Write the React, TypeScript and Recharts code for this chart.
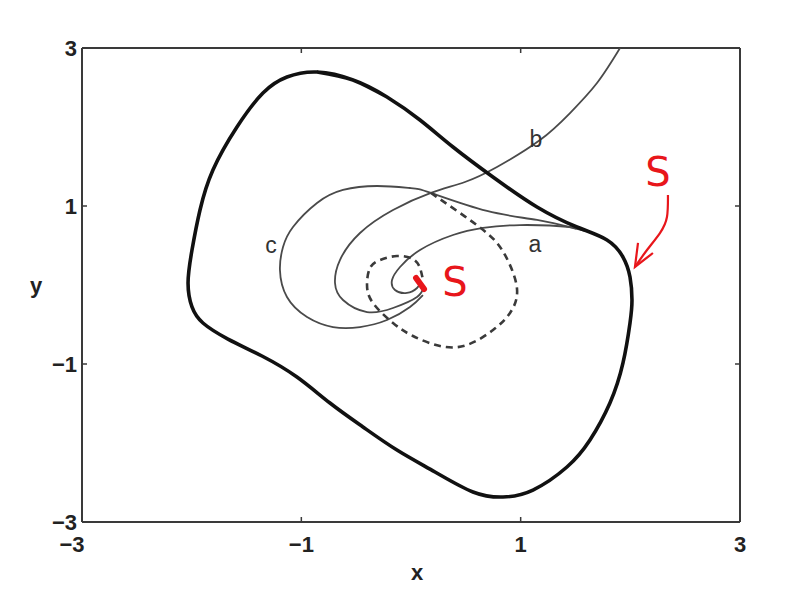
import { ComposedChart, Line, Scatter, XAxis, YAxis, ReferenceLine } from "recharts";

// thick closed orbit (stable limit cycle)
const thickCycle = [
  { x: -0.857, y: 2.696 }, { x: -0.529, y: 2.595 }, { x: -0.219, y: 2.38 },
  { x: 0.082, y: 2.089 }, { x: 0.383, y: 1.747 }, { x: 0.747, y: 1.367 },
  { x: 1.149, y: 0.987 }, { x: 1.513, y: 0.734 }, { x: 1.787, y: 0.57 },
  { x: 1.933, y: 0.354 }, { x: 1.997, y: 0.101 }, { x: 2.015, y: -0.19 },
  { x: 1.997, y: -0.481 }, { x: 1.933, y: -0.987 }, { x: 1.814, y: -1.494 },
  { x: 1.632, y: -1.962 }, { x: 1.422, y: -2.304 }, { x: 1.112, y: -2.595 },
  { x: 0.839, y: -2.684 }, { x: 0.565, y: -2.62 }, { x: 0.219, y: -2.367 },
  { x: -0.128, y: -2.089 }, { x: -0.438, y: -1.797 }, { x: -0.739, y: -1.494 },
  { x: -1.04, y: -1.165 }, { x: -1.359, y: -0.899 }, { x: -1.669, y: -0.684 },
  { x: -1.897, y: -0.481 }, { x: -1.997, y: -0.278 }, { x: -2.033, y: 0.025 },
  { x: -1.997, y: 0.443 }, { x: -1.924, y: 0.949 }, { x: -1.806, y: 1.456 },
  { x: -1.587, y: 2.0 }, { x: -1.35, y: 2.43 }, { x: -1.131, y: 2.633 },
  { x: -0.857, y: 2.696 }, { x: -0.529, y: 2.595 }, { x: -0.219, y: 2.38 },
];

// dashed orbit leaving the saddle and winding in
const dashedCycle = [
  { x: 0.182, y: 1.165 }, { x: 0.447, y: 0.911 }, { x: 0.702, y: 0.646 },
  { x: 0.857, y: 0.38 }, { x: 0.966, y: -0.038 }, { x: 0.903, y: -0.354 },
  { x: 0.748, y: -0.57 }, { x: 0.511, y: -0.759 }, { x: 0.264, y: -0.772 },
  { x: 0.018, y: -0.646 }, { x: -0.164, y: -0.481 }, { x: -0.347, y: -0.228 },
  { x: -0.401, y: 0.0 }, { x: -0.374, y: 0.215 }, { x: -0.283, y: 0.316 },
  { x: -0.128, y: 0.367 }, { x: 0.018, y: 0.329 }, { x: 0.082, y: 0.215 },
  { x: 0.109, y: 0.063 },
];

const curveA = [
  { x: 1.632, y: 0.671 }, { x: 1.45, y: 0.734 }, { x: 0.994, y: 0.759 },
  { x: 0.656, y: 0.722 }, { x: 0.383, y: 0.633 }, { x: 0.082, y: 0.443 },
  { x: -0.1, y: 0.228 }, { x: -0.173, y: 0.063 }, { x: -0.146, y: -0.063 },
  { x: -0.037, y: -0.101 }, { x: 0.055, y: -0.038 }, { x: 0.091, y: 0.038 },
];

const curveB = [
  { x: 1.906, y: 3.0 }, { x: 1.696, y: 2.557 }, { x: 1.45, y: 2.177 },
  { x: 1.176, y: 1.835 }, { x: 0.784, y: 1.494 }, { x: 0.492, y: 1.304 },
  { x: 0.182, y: 1.165 }, { x: -0.164, y: 0.949 }, { x: -0.465, y: 0.658 },
  { x: -0.648, y: 0.316 }, { x: -0.693, y: 0.025 }, { x: -0.62, y: -0.19 },
  { x: -0.401, y: -0.342 }, { x: -0.164, y: -0.291 }, { x: 0.055, y: -0.152 },
  { x: 0.118, y: -0.013 },
];

const curveC = [
  { x: 1.632, y: 0.671 }, { x: 1.513, y: 0.709 }, { x: 1.149, y: 0.823 },
  { x: 0.693, y: 0.937 }, { x: 0.182, y: 1.165 }, { x: -0.009, y: 1.228 },
  { x: -0.31, y: 1.253 }, { x: -0.62, y: 1.203 }, { x: -0.857, y: 1.038 },
  { x: -1.076, y: 0.734 }, { x: -1.167, y: 0.481 }, { x: -1.195, y: 0.19 },
  { x: -1.131, y: -0.152 }, { x: -0.948, y: -0.405 }, { x: -0.711, y: -0.532 },
  { x: -0.465, y: -0.532 }, { x: -0.219, y: -0.443 }, { x: -0.009, y: -0.278 },
  { x: 0.109, y: -0.127 },
];

const curveLabels = [
  { x: 1.13, y: 0.52, text: "a" },
  { x: 1.14, y: 1.85, text: "b" },
  { x: -1.277, y: 0.51, text: "c" },
];

// red hand annotations
const redMark = [{ x: 0.046, y: 0.089 }, { x: 0.119, y: -0.051 }];
const arrowShaft = [
  { x: 2.343, y: 1.139 }, { x: 2.334, y: 0.861 }, { x: 2.27, y: 0.658 },
  { x: 2.152, y: 0.443 }, { x: 2.042, y: 0.228 },
];
const arrowHead = [{ x: 2.07, y: 0.532 }, { x: 2.042, y: 0.228 }, { x: 2.206, y: 0.405 }];
const redLabels = [
  { x: 0.4, y: 0.04, text: "S" },
  { x: 2.252, y: 1.43, text: "S" },
];

const axisTicks = [-3, -1, 1, 3];

const PLOT_W = 658;
const PLOT_H = 474;
const FONT = "'Liberation Sans', Arial, Helvetica, sans-serif";
const AXIS_COLOR = "#3a3a3a";

const fmt = (v: number) => (v < 0 ? "\u2212" + Math.abs(v) : String(v));

const XTick = (props: any) => {
  const { x, y, payload } = props;
  const shift = payload.value === -3 ? -10 : 0;
  return (
    <g>
      <line x1={x} x2={x} y1={y} y2={y - 5} stroke={AXIS_COLOR} strokeWidth={1.5} />
      <line x1={x} x2={x} y1={y - PLOT_H} y2={y - PLOT_H + 5} stroke={AXIS_COLOR} strokeWidth={1.5} />
      <text x={x + shift} y={y + 30} textAnchor="middle" fontFamily={FONT} fontWeight="bold" fontSize={22} fill="#222">
        {fmt(payload.value)}
      </text>
    </g>
  );
};

const YTick = (props: any) => {
  const { x, y, payload } = props;
  return (
    <g>
      <line x1={x} x2={x + 5} y1={y} y2={y} stroke={AXIS_COLOR} strokeWidth={1.5} />
      <line x1={x + PLOT_W} x2={x + PLOT_W - 5} y1={y} y2={y} stroke={AXIS_COLOR} strokeWidth={1.5} />
      <text x={x - 5} y={y + 8} textAnchor="end" fontFamily={FONT} fontWeight="bold" fontSize={22} fill="#222">
        {fmt(payload.value)}
      </text>
    </g>
  );
};

const CurveLabel = (props: any) => {
  const { cx, cy, payload } = props;
  return (
    <text x={cx} y={cy + 8} textAnchor="middle" fontFamily={FONT} fontSize={23} fill="#333">
      {payload.text}
    </text>
  );
};

const RedLabel = (props: any) => {
  const { cx, cy, payload } = props;
  return (
    <text x={cx} y={cy + 14} textAnchor="middle" fontFamily="'DejaVu Sans', sans-serif" fontSize={40} fill="#e8161b">
      {payload.text}
    </text>
  );
};

export default function App() {
  return (
    <ComposedChart width={804} height={596} margin={{ top: 40, right: 72, bottom: 0, left: 0 }}>
      <XAxis
        type="number"
        dataKey="x"
        domain={[-3, 3]}
        ticks={axisTicks}
        allowDataOverflow
        height={82}
        tickSize={0}
        tickMargin={0}
        tick={<XTick />}
        axisLine={{ stroke: AXIS_COLOR, strokeWidth: 2 }}
        label={{ value: "x", position: "insideBottom", offset: 24, dx: 6, fontFamily: FONT, fontWeight: "bold", fontSize: 22, fill: "#222" }}
      />
      <YAxis
        type="number"
        dataKey="y"
        domain={[-3, 3]}
        ticks={axisTicks}
        allowDataOverflow
        width={74}
        tickSize={0}
        tickMargin={0}
        tick={<YTick />}
        axisLine={{ stroke: AXIS_COLOR, strokeWidth: 2 }}
        label={{ value: "y", position: "insideLeft", offset: 22, fontFamily: FONT, fontWeight: "bold", fontSize: 22, fill: "#222" }}
      />
      <ReferenceLine y={3} stroke={AXIS_COLOR} strokeWidth={2} />
      <ReferenceLine x={3} stroke={AXIS_COLOR} strokeWidth={2} />

      <Line data={curveC} dataKey="y" type="natural" stroke="#4a4a4a" strokeWidth={1.8} dot={false} isAnimationActive={false} />
      <Line data={curveA} dataKey="y" type="natural" stroke="#4a4a4a" strokeWidth={1.8} dot={false} isAnimationActive={false} />
      <Line data={curveB} dataKey="y" type="natural" stroke="#4a4a4a" strokeWidth={1.8} dot={false} isAnimationActive={false} />
      <Line data={dashedCycle} dataKey="y" type="natural" stroke="#3a3a3a" strokeWidth={2.6} strokeDasharray="7 5" dot={false} isAnimationActive={false} />
      <Line data={thickCycle} dataKey="y" type="natural" stroke="#111" strokeWidth={3.6} dot={false} isAnimationActive={false} />

      <Scatter data={curveLabels} shape={<CurveLabel />} isAnimationActive={false} />

      <Line data={redMark} dataKey="y" type="linear" stroke="#e8161b" strokeWidth={6} strokeLinecap="round" dot={false} isAnimationActive={false} />
      <Line data={arrowShaft} dataKey="y" type="natural" stroke="#e8161b" strokeWidth={2.2} dot={false} isAnimationActive={false} />
      <Line data={arrowHead} dataKey="y" type="linear" stroke="#e8161b" strokeWidth={2.2} dot={false} isAnimationActive={false} />
      <Scatter data={redLabels} shape={<RedLabel />} isAnimationActive={false} />
    </ComposedChart>
  );
}
